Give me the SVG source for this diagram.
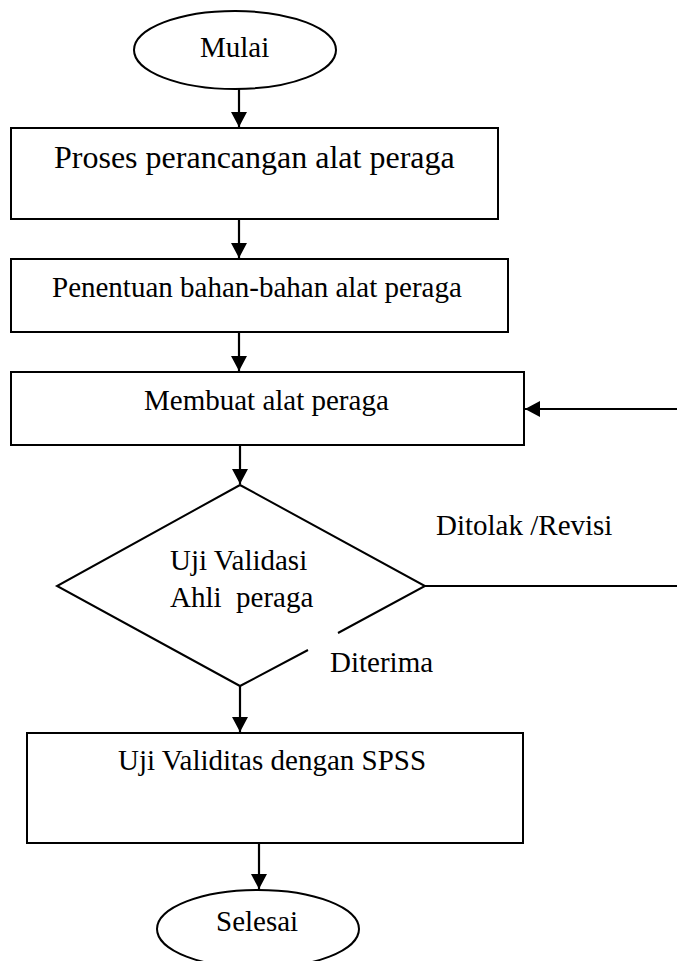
<svg xmlns="http://www.w3.org/2000/svg" width="677" height="961" viewBox="0 0 677 961">
<style>
.shape{fill:#fff;stroke:#000;stroke-width:2}
.edge{fill:none;stroke:#000;stroke-width:2.2}
text{font-family:"Liberation Serif","Times New Roman",serif;font-size:29px;fill:#000;white-space:pre}
</style>
<defs>
<marker id="arrow" markerUnits="userSpaceOnUse" markerWidth="15" markerHeight="16" refX="15" refY="8" orient="auto">
<path d="M0,0 L15,8 L0,16 z" fill="#000"/>
</marker>
</defs>
<rect width="677" height="961" fill="#fff"/>
<g id="start">
<ellipse class="shape" cx="235" cy="50" rx="101" ry="39"/>
<text x="200" y="57">Mulai</text>
</g>
<g id="proses">
<rect class="shape" x="11" y="128" width="487" height="91"/>
<text x="54" y="168" style="font-size:32px">Proses perancangan alat peraga</text>
</g>
<g id="penentuan">
<rect class="shape" x="11" y="259" width="497" height="73"/>
<text x="52" y="297">Penentuan bahan-bahan alat peraga</text>
</g>
<g id="membuat">
<rect class="shape" x="11" y="372" width="513" height="73"/>
<text x="144" y="410">Membuat alat peraga</text>
</g>
<g id="validasi">
<path class="shape" d="M338,633 L425,586 L240,485 L57,586 L240,686 L308,650" style="fill:none"/>
<text x="170" y="570">Uji Validasi</text>
<text x="170" y="607">Ahli  peraga</text>
</g>
<g id="validitas">
<rect class="shape" x="27" y="733" width="496" height="110"/>
<text x="118" y="770">Uji Validitas dengan SPSS</text>
</g>
<g id="end">
<ellipse class="shape" cx="258" cy="929" rx="101" ry="39"/>
<text x="216" y="931">Selesai</text>
</g>
<g id="connectors">
<line class="edge" x1="239" y1="89" x2="239" y2="127" marker-end="url(#arrow)"/>
<line class="edge" x1="239" y1="219" x2="239" y2="258" marker-end="url(#arrow)"/>
<line class="edge" x1="239" y1="332" x2="239" y2="371" marker-end="url(#arrow)"/>
<line class="edge" x1="240" y1="445" x2="240" y2="484" marker-end="url(#arrow)"/>
<line class="edge" x1="240" y1="686" x2="240" y2="732" marker-end="url(#arrow)"/>
<line class="edge" x1="259" y1="843" x2="259" y2="889" marker-end="url(#arrow)"/>
<path class="edge" d="M425,586 H680 V409 H525" marker-end="url(#arrow)"/>
<text x="436" y="535">Ditolak /Revisi</text>
<text x="330" y="672">Diterima</text>
</g>
</svg>
